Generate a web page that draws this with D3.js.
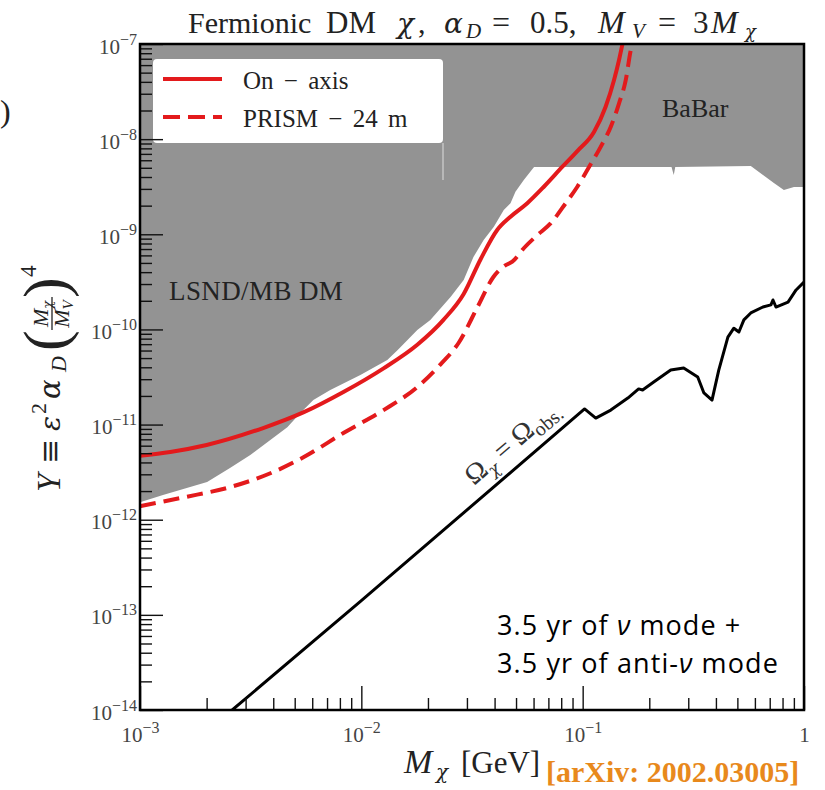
<!DOCTYPE html>
<html><head><meta charset="utf-8">
<script src="https://cdn.jsdelivr.net/npm/d3@7"></script>
<style>body{margin:0;background:#fff}svg{display:block}</style>
</head><body>
<svg id="c" width="825" height="790"></svg>
<script>
// ---------- data ----------
const onAxisM = [0.001, 0.00137, 0.002, 0.0036, 0.0055, 0.0083, 0.0126, 0.0179, 0.0235, 0.029, 0.0345, 0.0411, 0.0472, 0.0562, 0.0668, 0.0810, 0.0946, 0.1125, 0.127, 0.1386, 0.146, 0.1513];
const onAxisY = [4.7e-12, 5.15e-12, 6.1e-12, 9.2e-12, 1.35e-11, 2.2e-11, 3.9e-11, 6.9e-11, 1.26e-10, 2.36e-10, 5.4e-10, 1.11e-9, 1.53e-9, 2.12e-9, 3.16e-9, 5.13e-9, 7.5e-9, 1.19e-8, 2.19e-8, 4.19e-8, 6.8e-8, 1.0e-7];

const prismM = [0.001, 0.0016, 0.00255, 0.004, 0.0055, 0.0083, 0.0126, 0.0179, 0.0228, 0.0275, 0.0335, 0.0395, 0.0449, 0.0481, 0.0542, 0.0624, 0.0716, 0.0838, 0.0946, 0.107, 0.1206, 0.134, 0.146, 0.1566, 0.165, 0.1675];
const prismY = [1.39e-12, 1.73e-12, 2.2e-12, 3.17e-12, 4.56e-12, 8.15e-12, 1.42e-11, 2.48e-11, 4.3e-11, 7.2e-11, 1.72e-10, 3.56e-10, 4.75e-10, 5.15e-10, 7.13e-10, 9.8e-10, 1.30e-9, 2.12e-9, 3.16e-9, 5.13e-9, 8.3e-9, 1.35e-8, 2.38e-8, 4.19e-8, 8.65e-8, 1.0e-7];

const relicM = [0.00261, 0.01, 0.102, 0.1146, 0.134, 0.160, 0.179, 0.1866, 0.2094, 0.250, 0.286, 0.331, 0.353, 0.384, 0.412, 0.453, 0.482, 0.508, 0.535, 0.575, 0.652, 0.709, 0.724, 0.747, 0.847, 0.921, 1.0];
const relicY = [1e-14, 1.41e-13, 1.46e-11, 1.17e-11, 1.42e-11, 1.9e-11, 2.37e-11, 2.31e-11, 2.8e-11, 3.74e-11, 3.93e-11, 3.16e-11, 2.15e-11, 1.81e-11, 3.74e-11, 8.3e-11, 1.03e-10, 9.4e-11, 1.26e-10, 1.49e-10, 1.72e-10, 1.81e-10, 2.04e-10, 1.72e-10, 1.94e-10, 2.6e-10, 3.15e-10];

const lsndM = [0.001, 0.00127, 0.00201, 0.00255, 0.00315, 0.00388, 0.00463, 0.0053, 0.00607, 0.00724, 0.0099, 0.0131, 0.0146, 0.0179, 0.0205, 0.0253, 0.029, 0.0321, 0.0357, 0.0397, 0.044, 0.0472, 0.0497, 0.0542, 0.0603];
const lsndY = [1.53e-12, 1.82e-12, 2.49e-12, 3.49e-12, 4.79e-12, 6.9e-12, 9.4e-12, 1.32e-11, 1.81e-11, 2.31e-11, 3.32e-11, 4.78e-11, 6.08e-11, 9.87e-11, 1.26e-10, 2.19e-10, 3.31e-10, 5.77e-10, 8.7e-10, 1.2e-9, 1.8e-9, 2.12e-9, 2.8e-9, 3.72e-9, 5.1e-9];

const babarM = [0.0603, 0.149, 0.252, 0.258, 0.262, 0.575, 0.731, 0.811, 0.901, 1.0];
const babarY = [5.1e-9, 5.1e-9, 5.1e-9, 4.2e-9, 5.1e-9, 5.22e-9, 3.46e-9, 2.92e-9, 3.14e-9, 3.14e-9];

const xTickValues = [1e-3, 1e-2, 1e-1, 1];
const xTickLabels = [["10", "−3"], ["10", "−2"], ["10", "−1"], ["1", ""]];
const yTickValues = [1e-7, 1e-8, 1e-9, 1e-10, 1e-11, 1e-12, 1e-13, 1e-14];
const yTickLabels = ["−7", "−8", "−9", "−10", "−11", "−12", "−13", "−14"];

const seriesNames = ["On − axis", "PRISM − 24 m"];

// ---------- setup ----------
const RED = "#e31a1c", GRAY = "#939393";
const SERIF = "'Liberation Serif','Times New Roman',serif";
const GREEK = "'DejaVu Serif',serif";
const svg = d3.select("#c");
const L = 140, R = 804, T = 44, B = 710;
const x = d3.scaleLog().domain([1e-3, 1]).range([L, R]);
const y = d3.scaleLog().domain([1e-14, 1e-7]).range([B, T]);
const zip = (a, b) => a.map((v, i) => [v, b[i]]);

svg.append("defs").append("clipPath").attr("id", "clip")
  .append("rect").attr("x", L).attr("y", T).attr("width", R - L).attr("height", B - T);

const plot = svg.append("g").attr("clip-path", "url(#clip)");

// excluded region (LSND/MB DM joined with BaBar)
const boundary = zip(lsndM, lsndY).concat(zip(babarM, babarY).slice(1));
const area = d3.area().x(d => x(d[0])).y0(d => y(d[1])).y1(y(1e-7) - 2);
plot.append("path").datum(boundary).attr("d", area).attr("fill", GRAY);

// legend box
plot.append("rect").attr("x", 153).attr("y", 59).attr("width", 290).attr("height", 84)
  .attr("rx", 4).attr("fill", "#fff");
plot.append("line").attr("x1", 443).attr("x2", 443).attr("y1", 143).attr("y2", 180)
  .attr("stroke", "#fff").attr("stroke-width", 1).attr("opacity", 0.7);

const line = d3.line().x(d => x(d[0])).y(d => y(d[1])).curve(d3.curveMonotoneX);
const lineLin = d3.line().x(d => x(d[0])).y(d => y(d[1]));

plot.append("path").datum(zip(relicM, relicY)).attr("d", lineLin)
  .attr("fill", "none").attr("stroke", "#000").attr("stroke-width", 3).attr("stroke-linejoin", "round");
plot.append("path").datum(zip(onAxisM, onAxisY)).attr("d", line)
  .attr("fill", "none").attr("stroke", RED).attr("stroke-width", 4);
plot.append("path").datum(zip(prismM, prismY)).attr("d", line)
  .attr("fill", "none").attr("stroke", RED).attr("stroke-width", 4).attr("stroke-dasharray", "16,8");

// legend entries
const lg = svg.append("g");
lg.append("line").attr("x1", 163).attr("x2", 222).attr("y1", 79).attr("y2", 79)
  .attr("stroke", RED).attr("stroke-width", 4);
lg.append("line").attr("x1", 163).attr("x2", 222).attr("y1", 117).attr("y2", 117)
  .attr("stroke", RED).attr("stroke-width", 4).attr("stroke-dasharray", "17,8");
lg.selectAll("text.lt").data(seriesNames).join("text").attr("class", "lt")
  .attr("x", 243).attr("y", (d, i) => 89 + i * 38)
  .attr("font-family", SERIF).attr("font-size", 25).attr("fill", "#222")
  .attr("word-spacing", 4).text(d => d);

// annotations
svg.append("text").attr("x", 662).attr("y", 117).attr("font-family", SERIF)
  .attr("font-size", 26).attr("fill", "#222").text("BaBar");
svg.append("text").attr("x", 169).attr("y", 300).attr("font-family", SERIF)
  .attr("font-size", 27).attr("letter-spacing", 0.4).attr("fill", "#222").text("LSND/MB DM");

const om = svg.append("text").attr("transform", "translate(474,486) rotate(-40.5)")
  .attr("font-family", SERIF).attr("font-size", 28).attr("fill", "#333");
om.append("tspan").text("Ω");
om.append("tspan").attr("font-family", GREEK).attr("font-style", "italic").attr("font-size", 17).attr("dy", 6).text("χ");
om.append("tspan").attr("dy", -6).text(" = Ω");
om.append("tspan").attr("font-size", 20).attr("dy", 6).text("obs.");

const SANS = "'Open Sans','Noto Sans',Lato,sans-serif";
const note = svg.append("g").attr("font-family", SANS).attr("font-size", 27)
  .attr("letter-spacing", 1.1).attr("fill", "#000");
const n1 = note.append("text").attr("x", 497).attr("y", 635);
n1.append("tspan").text("3.5 yr of ");
n1.append("tspan").attr("font-style", "italic").text("ν");
n1.append("tspan").text(" mode +");
const n2 = note.append("text").attr("x", 497).attr("y", 673);
n2.append("tspan").text("3.5 yr of anti-");
n2.append("tspan").attr("font-style", "italic").text("ν");
n2.append("tspan").text(" mode");

// ---------- axes ----------
function styleAxis(g) {
  g.select(".domain").remove();
  g.selectAll(".tick line").attr("stroke", "#111").attr("stroke-width", 1.4);
}
const xMinor = x.ticks().filter(v => !xTickValues.some(m => Math.abs(m - v) / m < 1e-6));
const yMinor = y.ticks().filter(v => !yTickValues.some(m => Math.abs(m - v) / m < 1e-6));

svg.append("g").attr("transform", `translate(0,${B})`)
  .call(d3.axisBottom(x).tickValues(xMinor).tickSizeInner(-12).tickSizeOuter(0).tickFormat(""))
  .call(styleAxis);
const xMaj = svg.append("g").attr("transform", `translate(0,${B})`)
  .call(d3.axisBottom(x).tickValues(xTickValues).tickSizeInner(-24).tickSizeOuter(0).tickFormat(""))
  .call(styleAxis);
xMaj.selectAll(".tick text").each(function (d, i) {
  const t = d3.select(this).attr("y", 32).attr("dy", null)
    .attr("font-family", SERIF).attr("font-size", 21).attr("fill", "#444");
  t.text(null);
  t.append("tspan").text(xTickLabels[i][0]);
  if (xTickLabels[i][1]) t.append("tspan").attr("font-size", 16).attr("dy", -9).text(xTickLabels[i][1]);
});

svg.append("g").attr("transform", `translate(${L},0)`)
  .call(d3.axisLeft(y).tickValues(yMinor).tickSizeInner(-12).tickSizeOuter(0).tickFormat(""))
  .call(styleAxis);
const yMaj = svg.append("g").attr("transform", `translate(${L},0)`)
  .call(d3.axisLeft(y).tickValues(yTickValues).tickSizeInner(-23).tickSizeOuter(0).tickFormat(""))
  .call(styleAxis);
yMaj.selectAll(".tick text").each(function (d, i) {
  const t = d3.select(this).attr("x", -3).attr("dy", 9)
    .attr("font-family", SERIF).attr("font-size", 21).attr("fill", "#444");
  t.text(null);
  t.append("tspan").text("10");
  t.append("tspan").attr("font-size", 16).attr("dy", -9).text(yTickLabels[i]);
});

// spines
svg.append("rect").attr("x", L).attr("y", T).attr("width", R - L).attr("height", B - T)
  .attr("fill", "none").attr("stroke", "#000").attr("stroke-width", 2.5);

// ---------- titles ----------
const title = svg.append("text").attr("font-family", SERIF).attr("font-size", 30).attr("fill", "#222");
const tPart = (txt, px, py, opt = {}) => {
  const s = title.append("tspan").attr("x", px).attr("y", py).text(txt);
  if (opt.it) s.attr("font-style", "italic");
  if (opt.fs) s.attr("font-size", opt.fs);
  if (opt.ff) s.attr("font-family", opt.ff);
  return s;
};
tPart("Fermionic", 188, 33);
tPart("DM", 326, 33, { fs: 31 });
tPart("χ", 397, 33, { it: 1, ff: GREEK, fs: 28 });
tPart(",", 418, 33);
tPart("α", 444, 33, { it: 1, ff: GREEK, fs: 28 });
tPart("D", 466, 38, { it: 1, fs: 21 });
tPart("=", 492, 33, { fs: 32 });
tPart("0.5,", 530, 33, { fs: 31 });
tPart("M", 598, 33, { it: 1, fs: 32 });
tPart("V", 632, 38, { it: 1, fs: 21 });
tPart("=", 658, 33, { fs: 32 });
tPart("3", 693, 33, { fs: 31 });
tPart("M", 711, 33, { it: 1, fs: 32 });
tPart("χ", 745, 38, { it: 1, ff: GREEK, fs: 18 });

const xl = svg.append("text").attr("font-family", SERIF).attr("font-size", 32).attr("fill", "#222");
xl.append("tspan").attr("x", 404).attr("y", 773).attr("font-style", "italic").attr("font-size", 34).text("M");
xl.append("tspan").attr("x", 436).attr("y", 779).attr("font-family", GREEK).attr("font-style", "italic").attr("font-size", 20).text("χ");
xl.append("tspan").attr("x", 461).attr("y", 773).attr("font-size", 31).text("[GeV]");

svg.append("text").attr("x", 546).attr("y", 782).attr("font-family", SERIF)
  .attr("font-weight", "bold").attr("font-size", 30).attr("fill", "#e8891c")
  .text("[arXiv: 2002.03005]");

// y label (rotated)
const yl = svg.append("g").attr("transform", "translate(60,377) rotate(-90)")
  .attr("font-family", SERIF).attr("fill", "#222");
const yPart = (txt, px, py, opt = {}) => {
  const s = yl.append("text").attr("x", px).attr("y", py).attr("font-size", opt.fs || 33).text(txt);
  if (opt.it) s.attr("font-style", "italic");
  if (opt.ff) s.attr("font-family", opt.ff);
  return s;
};
yPart("Y", -115, 0, { it: 1 });
yPart("≡", -87, 0, { ff: GREEK, fs: 30 });
yPart("ε", -54, 0, { it: 1, ff: GREEK, fs: 28 });
yPart("2", -37, -14, { fs: 22 });
yPart("α", -22, 0, { it: 1, ff: GREEK, fs: 29 });
yPart("D", 5, 6, { it: 1, fs: 22 });
yPart("(", 26, 6, { fs: 62 });
yPart(")", 79, 6, { fs: 62 });
yl.append("line").attr("x1", 47).attr("x2", 80).attr("y1", -8).attr("y2", -8)
  .attr("stroke", "#222").attr("stroke-width", 1.3);
const num = yl.append("text").attr("x", 63).attr("y", -12).attr("text-anchor", "middle").attr("font-size", 22);
num.append("tspan").attr("font-style", "italic").text("M");
num.append("tspan").attr("font-family", GREEK).attr("font-style", "italic").attr("font-size", 13).attr("dy", 4).text("χ");
const den = yl.append("text").attr("x", 63).attr("y", 9).attr("text-anchor", "middle").attr("font-size", 22);
den.append("tspan").attr("font-style", "italic").text("M");
den.append("tspan").attr("font-style", "italic").attr("font-size", 15).attr("dy", 4).text("V");
yPart("4", 100, -24, { fs: 23 });

// fragment at the left edge, as in the reference
svg.append("text").attr("x", 0).attr("y", 122).attr("font-family", SERIF)
  .attr("font-size", 32).attr("fill", "#222").text(")");
</script>
</body></html>
